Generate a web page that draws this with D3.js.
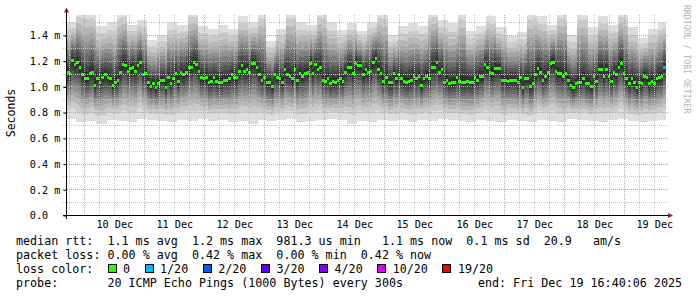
<!DOCTYPE html>
<html>
<head>
<meta charset="utf-8">
<script src="https://cdn.jsdelivr.net/npm/d3@7"></script>
<style>
body { margin: 0; background: #fff; }
svg { display: block; }
text { font-family: "DejaVu Sans Mono", monospace; white-space: pre; }
</style>
</head>
<body>
<div id="chart"></div>
<script>
// median rtt in ms, one value per hour
const medianRtt = [
  1.11,1.10,1.20,1.17,1.19,1.15,1.09,1.06,1.06,1.10,1.11,1.01,1.06,1.03,1.07,1.09,1.07,1.06,1.01,1.03,
  1.05,1.11,1.17,1.16,1.12,1.14,1.15,1.12,1.16,1.19,1.09,1.10,1.03,1.00,1.02,0.99,1.02,1.05,1.05,0.99,
  1.07,1.02,1.06,1.10,1.04,1.11,1.09,1.11,1.15,1.15,1.19,1.17,1.12,1.07,1.06,1.07,1.03,1.04,
  1.07,1.04,1.03,1.03,1.05,1.05,1.06,1.09,1.07,1.07,1.12,1.16,1.12,1.13,1.11,1.18,1.18,1.15,1.09,1.05,
  1.07,1.03,1.03,1.00,1.09,1.07,1.06,1.03,1.13,1.09,1.08,1.06,1.13,1.05,1.10,1.08,1.10,1.11,1.18,1.10,
  1.17,1.13,1.15,1.05,1.04,1.06,1.02,1.04,1.03,1.05,1.06,1.04,1.11,1.15,1.15,1.10,1.18,1.16,1.16,1.09,
  1.13,1.11,1.12,1.19,1.22,1.13,1.10,1.04,1.07,1.03,1.03,1.10,1.06,1.09,1.06,1.04,1.03,1.04,1.05,1.08,
  1.06,1.08,1.01,1.06,1.08,1.06,1.15,1.15,1.19,1.11,1.13,1.03,1.05,1.02,1.03,1.03,1.07,1.04,1.03,1.03,
  1.04,1.03,1.03,1.07,1.05,1.08,1.08,1.17,1.15,1.11,1.10,1.14,1.14,1.14,1.05,1.05,1.04,1.05,1.05,1.05,
  1.03,1.07,0.99,1.06,1.06,1.00,1.02,1.09,1.14,1.11,1.05,1.08,1.11,1.18,1.19,1.12,1.10,1.10,1.08,1.10,
  1.05,1.01,0.99,1.02,1.03,1.03,1.06,1.02,1.02,1.00,1.08,1.04,1.13,1.13,1.08,1.13,1.08,1.04,1.11,1.09,
  1.15,1.18,1.10,1.06,1.02,1.06,1.03,0.99,1.03,1.02,1.08,1.07,1.02,1.04,1.02,1.06,1.07,1.08,1.15
];

// points with lost pings (index into medianRtt, pings lost of 20)
const lossIndex = [30, 236];
const lossCount = [1, 1];

// smoke extremes (fastest / slowest ping) in ms, 4 hour columns
const smokeLow = [
  0.75,0.72,0.73,0.71,0.74,0.73,0.72,0.75,0.74,0.73,0.72,0.74,0.73,0.75,0.73,
  0.74,0.72,0.73,0.71,0.74,0.73,0.74,0.75,0.72,0.73,0.74,0.75,0.74,0.71,0.73,
  0.72,0.74,0.73,0.74,0.72,0.74,0.73,0.75,0.74,0.73,0.72,0.74,0.73,0.72,0.74,
  0.73,0.72,0.74,0.73,0.72,0.75,0.74,0.73,0.72,0.74,0.75,0.73,0.72,0.73,0.74
];
const smokeHigh = [
  1.50,1.60,1.60,1.47,1.50,1.60,1.48,1.52,1.36,1.40,1.50,1.48,1.60,1.47,1.45,
  1.48,1.45,1.55,1.50,1.60,1.35,1.45,1.60,1.50,1.48,1.60,1.50,1.44,1.49,1.43,
  1.50,1.60,1.40,1.47,1.49,1.47,1.60,1.52,1.49,1.60,1.43,1.47,1.55,1.46,1.39,
  1.42,1.60,1.55,1.48,1.60,1.40,1.60,1.46,1.55,1.48,1.60,1.46,1.38,1.45,1.50
];

// how far each smoke pair reaches towards the extremes (outer to inner)
const layerLow  = [1, 0.82, 0.70, 0.60, 0.50, 0.42, 0.34, 0.26, 0.18, 0.10];
const layerHigh = [1, 0.86, 0.74, 0.63, 0.53, 0.44, 0.35, 0.27, 0.19, 0.10];

const yTicks = [0, 0.2, 0.4, 0.6, 0.8, 1.0, 1.2, 1.4];
const yMinor = [0.1, 0.3, 0.5, 0.7, 0.9, 1.1, 1.3, 1.5];
const dayLabels = ["10 Dec","11 Dec","12 Dec","13 Dec","14 Dec","15 Dec","16 Dec","17 Dec","18 Dec","19 Dec"];

const lossLabels = ["0", "1/20", "2/20", "3/20", "4/20", "10/20", "19/20"];
const lossSteps  = [0, 1, 2, 3, 4, 10, 19];
const lossColors = ["#26ff00", "#00b8ff", "#0059ff", "#5e00ff", "#7e00ff", "#dd00ff", "#ff0000"];

const statLines = [
  "median rtt:  1.1 ms avg  1.2 ms max  981.3 us min   1.1 ms now  0.1 ms sd  20.9   am/s",
  "packet loss: 0.00 % avg  0.42 % max  0.00 % min  0.42 % now",
  "loss color:",
  "probe:       20 ICMP Echo Pings (1000 Bytes) every 300s"
];
const endLabel = "end: Fri Dec 19 16:40:06 2025";

const tStart = Date.UTC(2025, 11, 9, 16, 40, 6);
const tEnd = Date.UTC(2025, 11, 19, 16, 40, 6);

const width = 697, height = 297;
const svg = d3.select("#chart").append("svg")
    .attr("width", width)
    .attr("height", height);
svg.append("rect").attr("width", width).attr("height", height).attr("fill", "#fff");

const x = d3.scaleUtc().domain([tStart, tEnd]).range([66, 666]);
const y = d3.scaleLinear().domain([0, 1.5556]).range([215, 15]).clamp(true);

// build columns
const N = medianRtt.length;
const step = (tEnd - tStart) / N;
const pts = medianRtt.map((m, i) => {
    const c = Math.min(smokeLow.length - 1, Math.floor(i * smokeLow.length / N));
    return { t: tStart + i * step, med: m, lo: smokeLow[c], hi: smokeHigh[c], loss: 0 };
});
lossIndex.forEach((k, j) => pts[k].loss = lossCount[j]);
const stepPts = pts.concat([Object.assign({}, pts[N - 1], { t: tEnd })]);

// smoke, outer pair first
const smoke = svg.append("g").attr("class", "smoke");
layerLow.forEach((fl, j) => {
    const shade = Math.floor(190 / 10 * (10 - (j + 1))) + 50;
    const area = d3.area()
        .curve(d3.curveStepAfter)
        .x(d => x(d.t))
        .y0(d => y(d.med - (d.med - d.lo) * fl))
        .y1(d => y(d.med + (d.hi - d.med) * layerHigh[j]));
    smoke.append("path")
        .datum(stepPts)
        .attr("d", area)
        .attr("fill", d3.rgb(shade, shade, shade))
        .attr("shape-rendering", "crispEdges");
});

// median bars coloured by loss
const lossColor = n => {
    let k = 0;
    lossSteps.forEach((s, i) => { if (n >= s) k = i; });
    return lossColors[k];
};
svg.append("g")
    .selectAll("rect")
    .data(pts)
    .enter()
    .append("rect")
        .attr("x", d => x(d.t))
        .attr("width", d => x(d.t + step) - x(d.t))
        .attr("y", d => y(d.med) - 1.5)
        .attr("height", 3)
        .attr("fill", d => lossColor(d.loss))
        .attr("shape-rendering", "crispEdges");

// grid
const grid = svg.append("g").attr("class", "grid").attr("stroke-width", 1).attr("stroke-dasharray", "1,1");
const hours = d3.utcHour.every(6).range(new Date(tStart), new Date(tEnd)).filter(d => d.getUTCHours() !== 0);
const days = d3.utcDay.range(new Date(tStart), new Date(tEnd));

grid.selectAll(".minor-h").data(yMinor).enter().append("line")
    .attr("x1", 63).attr("x2", 669)
    .attr("y1", d => Math.round(y(d)) + 0.5).attr("y2", d => Math.round(y(d)) + 0.5)
    .attr("stroke", "#c4c4c4");
grid.selectAll(".minor-v").data(hours).enter().append("line")
    .attr("x1", d => Math.floor(x(d)) + 0.5).attr("x2", d => Math.floor(x(d)) + 0.5)
    .attr("y1", 15).attr("y2", 215)
    .attr("stroke", "#c4c4c4");
grid.selectAll(".major-h").data(yTicks.slice(1)).enter().append("line")
    .attr("x1", 63).attr("x2", 669)
    .attr("y1", d => Math.round(y(d)) + 0.5).attr("y2", d => Math.round(y(d)) + 0.5)
    .attr("stroke", "#e99090");
grid.selectAll(".major-v").data(days).enter().append("line")
    .attr("x1", d => Math.floor(x(d)) + 0.5).attr("x2", d => Math.floor(x(d)) + 0.5)
    .attr("y1", 15).attr("y2", 215)
    .attr("stroke", "#e99090");

// axes
const yAxis = d3.axisLeft(y)
    .tickValues(yTicks)
    .tickSize(3)
    .tickPadding(3)
    .tickFormat(d => d === 0 ? "0.0\u00a0\u00a0" : d3.format(".1f")(d) + " m");
const gy = svg.append("g")
    .attr("transform", "translate(66.5,0.5)")
    .call(yAxis);
gy.select(".domain").remove();
gy.selectAll("text").attr("font-size", "10.2px").attr("font-family", "DejaVu Sans Mono").attr("fill", "#000");

const noons = days.map(d => d3.utcHour.offset(d, 12));
const xAxis = d3.axisBottom(x)
    .tickValues(noons)
    .tickSize(0)
    .tickPadding(5.3)
    .tickFormat((d, i) => dayLabels[i]);
const gx = svg.append("g")
    .attr("transform", "translate(0,215)")
    .call(xAxis);
gx.select(".domain").remove();
gx.selectAll("text").attr("font-size", "10.2px").attr("font-family", "DejaVu Sans Mono").attr("fill", "#000");

svg.append("line").attr("x1", 63).attr("x2", 668).attr("y1", 215.5).attr("y2", 215.5).attr("stroke", "#000");
svg.append("line").attr("x1", 66.5).attr("x2", 66.5).attr("y1", 219).attr("y2", 12).attr("stroke", "#000");
svg.append("path").attr("d", "M64,12.5 L69,12.5 L66.5,7.5 Z").attr("fill", "#8b1c1c");
svg.append("path").attr("d", "M668,213 L668,218 L673,215.5 Z").attr("fill", "#8b1c1c");

// titles
svg.append("text")
    .attr("transform", "translate(15,113) rotate(-90)")
    .attr("text-anchor", "middle")
    .attr("font-size", "11.5px")
    .text("Seconds");
svg.append("text")
    .attr("transform", "translate(684,5) rotate(90)")
    .attr("font-size", "8.2px")
    .attr("fill", "#b4b4b4")
    .text("RRDTOOL / TOBI OETIKER");

// legend
const cw = 7.04;
const legend = svg.append("g").attr("font-size", "11.7px").attr("fill", "#000");
statLines.forEach((s, i) => {
    legend.append("text").attr("x", 16).attr("y", 244.5 + i * 14).text(s);
});
legend.append("text").attr("x", 682).attr("y", 244.5 + 3 * 14).attr("text-anchor", "end").text(endLabel);

let sx = 16 + 13 * cw;
lossLabels.forEach((lab, i) => {
    legend.append("rect")
        .attr("x", Math.round(sx) + 0.5).attr("y", 264.5)
        .attr("width", 8).attr("height", 8)
        .attr("fill", lossColors[i]).attr("stroke", "#000");
    legend.append("text").attr("x", sx + 15.5).attr("y", 272.5).text(lab);
    sx = sx + 15.5 + lab.length * cw + 14.5;
});
</script>
</body>
</html>
